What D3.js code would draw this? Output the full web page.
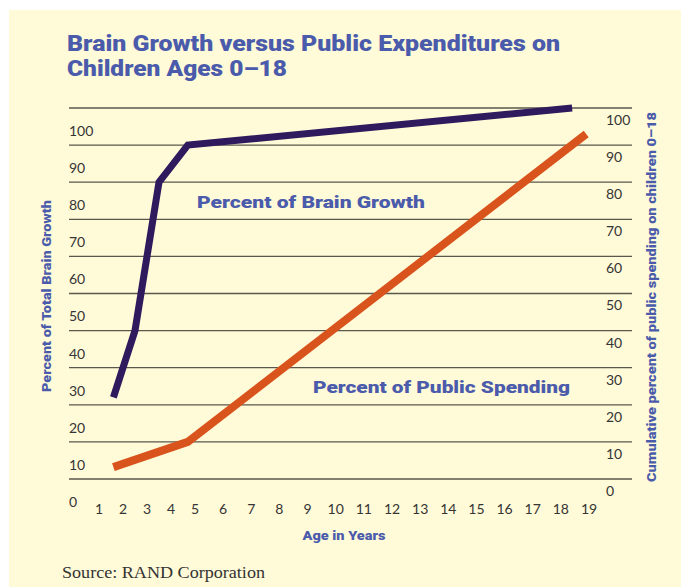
<!DOCTYPE html>
<html>
<head>
<meta charset="utf-8">
<script src="https://cdn.jsdelivr.net/npm/d3@7"></script>
<style>
  body { margin: 0; background: #fff; }
  svg { display: block; }
</style>
</head>
<body>
<svg id="chart" width="681" height="587"></svg>
<script>
// data
const brainAge = [1.6, 2.5, 3.5, 4.7, 18.4];
const brainPct = [22, 40, 80, 90, 100];
const spendAge = [1.6, 4.7, 18.9];
const spendPct = [3.2, 10, 93];
const ageTicks = d3.range(1, 20);
const pctTicks = d3.range(0, 101, 10);

const svg = d3.select("#chart"),
      colorBg = "#fffad7",
      colorTitle = "#4b5bab",
      colorBrain = "#2e1a5d",
      colorSpend = "#d9531d",
      colorGrid = "#5a574c",
      colorTick = "#353535";

// x axis in the original is not evenly spaced: ages 1-5 are closer together
let x = d3.scaleLinear().domain([1, 5, 19]).range([99, 195, 589]);
let y = d3.scaleLinear().domain([0, 100]).range([479, 108]);

svg.append("rect")
    .attr("x", 9).attr("y", 10)
    .attr("width", 672).attr("height", 577)
    .attr("fill", colorBg);

const heavyFont = "Roboto, 'Liberation Sans', sans-serif";

// title
const title = svg.append("g")
    .attr("font-family", heavyFont)
    .attr("font-weight", 900)
    .attr("font-size", 22)
    .attr("fill", colorTitle);
title.append("text").attr("x", 67).attr("y", 51)
    .attr("textLength", 493).attr("lengthAdjust", "spacingAndGlyphs")
    .text("Brain Growth versus Public Expenditures on");
title.append("text").attr("x", 67).attr("y", 76)
    .attr("textLength", 220).attr("lengthAdjust", "spacingAndGlyphs")
    .text("Children Ages 0\u201318");

// gridlines
svg.append("g")
  .selectAll("line")
  .data(pctTicks)
  .join("line")
    .attr("x1", 69).attr("x2", 632)
    .attr("y1", d => y(d)).attr("y2", d => y(d))
    .attr("stroke", colorGrid)
    .attr("stroke-width", 1.3);

const tickFont = "Lato, 'Open Sans', sans-serif";

// left labels sit in the band under each line
svg.append("g")
    .attr("font-family", tickFont).attr("font-size", 14).attr("fill", colorTick)
  .selectAll("text")
  .data(pctTicks)
  .join("text")
    .attr("x", 69)
    .attr("y", d => y(d) + 23)
    .attr("dy", "0.35em")
    .text(d => d);

// right labels
svg.append("g")
    .attr("font-family", tickFont).attr("font-size", 14).attr("fill", colorTick)
  .selectAll("text")
  .data(pctTicks)
  .join("text")
    .attr("x", 606)
    .attr("y", d => y(d) + 12)
    .attr("dy", "0.35em")
    .text(d => d);

// age labels
svg.append("g")
    .attr("font-family", tickFont).attr("font-size", 14).attr("fill", colorTick)
    .attr("text-anchor", "middle")
  .selectAll("text")
  .data(ageTicks)
  .join("text")
    .attr("x", d => x(d))
    .attr("y", 509)
    .attr("dy", "0.35em")
    .text(d => d);

// lines
const line = d3.line().x(d => x(d[0])).y(d => y(d[1]));

svg.append("path")
    .datum(d3.zip(spendAge, spendPct))
    .attr("d", line)
    .attr("fill", "none")
    .attr("stroke", colorSpend)
    .attr("stroke-width", 8)
    .attr("stroke-linejoin", "miter");

svg.append("path")
    .datum(d3.zip(brainAge, brainPct))
    .attr("d", line)
    .attr("fill", "none")
    .attr("stroke", colorBrain)
    .attr("stroke-width", 7)
    .attr("stroke-linejoin", "miter");

// labels on the chart
svg.append("text")
    .attr("x", 197).attr("y", 202).attr("dy", "0.35em")
    .attr("font-family", heavyFont).attr("font-weight", 900).attr("font-size", 17)
    .attr("fill", colorTitle)
    .attr("textLength", 228).attr("lengthAdjust", "spacingAndGlyphs")
    .text("Percent of Brain Growth");
svg.append("text")
    .attr("x", 313).attr("y", 387).attr("dy", "0.35em")
    .attr("font-family", heavyFont).attr("font-weight", 900).attr("font-size", 17)
    .attr("fill", colorTitle)
    .attr("textLength", 257).attr("lengthAdjust", "spacingAndGlyphs")
    .text("Percent of Public Spending");

// axis titles
svg.append("text")
    .attr("transform", "translate(47,296) rotate(-90)")
    .attr("text-anchor", "middle").attr("dy", "0.35em")
    .attr("font-family", heavyFont).attr("font-weight", 900).attr("font-size", 12.5)
    .attr("fill", colorTitle)
    .attr("textLength", 192).attr("lengthAdjust", "spacingAndGlyphs")
    .text("Percent of Total Brain Growth");
svg.append("text")
    .attr("transform", "translate(652,297) rotate(-90)")
    .attr("text-anchor", "middle").attr("dy", "0.35em")
    .attr("font-family", heavyFont).attr("font-weight", 900).attr("font-size", 12.5)
    .attr("fill", colorTitle)
    .attr("textLength", 370).attr("lengthAdjust", "spacingAndGlyphs")
    .text("Cumulative percent of public spending on children 0\u201318");
svg.append("text")
    .attr("x", 344).attr("y", 535).attr("dy", "0.35em")
    .attr("text-anchor", "middle")
    .attr("font-family", heavyFont).attr("font-weight", 900).attr("font-size", 13)
    .attr("fill", colorTitle)
    .attr("textLength", 83).attr("lengthAdjust", "spacingAndGlyphs")
    .text("Age in Years");

// source
svg.append("text")
    .attr("x", 62).attr("y", 572).attr("dy", "0.35em")
    .attr("font-family", "'Liberation Serif', 'DejaVu Serif', serif")
    .attr("font-size", 16.5)
    .attr("fill", "#333")
    .attr("textLength", 203).attr("lengthAdjust", "spacingAndGlyphs")
    .text("Source: RAND Corporation");
</script>
</body>
</html>
